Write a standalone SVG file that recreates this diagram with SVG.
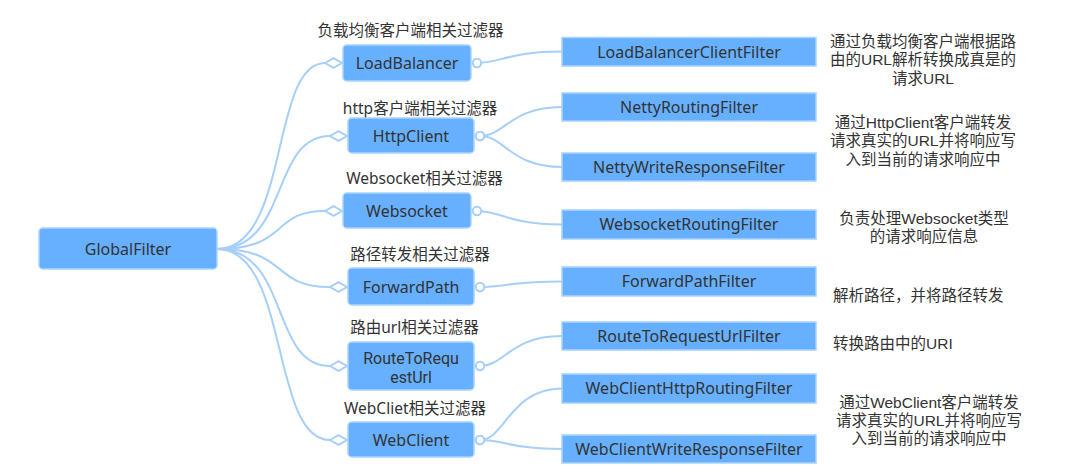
<svg xmlns="http://www.w3.org/2000/svg" width="1081" height="475" viewBox="0 0 1081 475">
<style>
  .bg{fill:#ffffff}
  .lnode{fill:#66b0ff;stroke:#a9d3ff;stroke-width:1.5}
  .rnode{fill:#66b0ff;stroke:#a9d3ff;stroke-width:1.5}
  .nt{font-family:"Noto Sans","Noto Sans CJK SC",sans-serif;font-size:16px;fill:#333333;text-anchor:middle}
  .nt2{font-family:Roboto,"Noto Sans",sans-serif;font-size:16px;fill:#333333;text-anchor:middle}
  .lbl{font-family:"Noto Sans","Noto Sans CJK SC",sans-serif;font-size:15.5px;fill:#333333;text-anchor:middle}
  .desc{font-family:"Liberation Sans","Noto Sans CJK SC",sans-serif;font-size:15.5px;fill:#333333;text-anchor:middle}
  .descl{font-family:"Liberation Sans","Noto Sans CJK SC",sans-serif;font-size:15.5px;fill:#333333;text-anchor:start}
  .conn{fill:none;stroke:#a6cff9;stroke-width:2}
  .lconn{marker-end:url(#diamond)}
  .rconn{marker-start:url(#dot)}
</style>
<defs>
  <marker id="diamond" markerUnits="userSpaceOnUse" markerWidth="22" markerHeight="14" viewBox="-2 -7 22 14" refX="0" refY="0" orient="auto" overflow="visible">
    <path d="M0,0 L8.5,-4.8 L17,0 L8.5,4.8 Z" fill="#ffffff" stroke="#a6cff9" stroke-width="2"/>
  </marker>
  <marker id="dot" markerUnits="userSpaceOnUse" markerWidth="14" markerHeight="14" viewBox="-7 -7 14 14" refX="0" refY="0" orient="auto" overflow="visible">
    <circle cx="0" cy="0" r="4.2" fill="#ffffff" stroke="#a6cff9" stroke-width="2"/>
  </marker>
</defs>
<rect class="bg" x="0" y="0" width="1081" height="475"/>

<g id="connectors">
  <path class="conn lconn" d="M217,249 C290,249 270,63 325,63"/>
  <path class="conn lconn" d="M217,249 C290,249 270,136 330,136"/>
  <path class="conn lconn" d="M217,249 C290,249 270,211 325,211"/>
  <path class="conn lconn" d="M217,249 C290,249 270,287 330,287"/>
  <path class="conn lconn" d="M217,249 C290,249 270,366 330,366"/>
  <path class="conn lconn" d="M217,249 C290,249 270,440 330,440"/>

  <path class="conn rconn" d="M477,63 C502,63 507,51.5 562,51.5"/>
  <path class="conn rconn" d="M480,136 C505,136 510,107 562,107"/>
  <path class="conn rconn" d="M480,136 C505,136 510,167 562,167"/>
  <path class="conn rconn" d="M477,211 C502,211 507,224.5 562,224.5"/>
  <path class="conn rconn" d="M480,287 C505,287 510,281.5 562,281.5"/>
  <path class="conn rconn" d="M480,366 C505,366 510,336 562,336"/>
  <path class="conn rconn" d="M480,440 C505,440 510,388.5 562,388.5"/>
  <path class="conn rconn" d="M480,440 C505,440 510,449 562,449"/>
</g>

<g id="GlobalFilter">
  <rect class="lnode" x="39" y="228" width="178" height="41" rx="4"/>
  <text class="nt" x="128" y="254.5">GlobalFilter</text>
</g>

<g id="LoadBalancer">
  <text class="lbl" x="410.5" y="35.5">负载均衡客户端相关过滤器</text>
  <rect class="lnode" x="343" y="45" width="128" height="36" rx="4"/>
  <text class="nt" x="407" y="68.5">LoadBalancer</text>
</g>
<g id="HttpClient">
  <text class="lbl" x="420" y="113.5">http客户端相关过滤器</text>
  <rect class="lnode" x="348" y="118" width="126" height="35" rx="4"/>
  <text class="nt" x="411" y="141.5">HttpClient</text>
</g>
<g id="Websocket">
  <text class="lbl" x="424.5" y="183.5">Websocket相关过滤器</text>
  <rect class="lnode" x="343" y="193" width="128" height="35" rx="4"/>
  <text class="nt" x="407" y="216.5">Websocket</text>
</g>
<g id="ForwardPath">
  <text class="lbl" x="420" y="259.5">路径转发相关过滤器</text>
  <rect class="lnode" x="348" y="268" width="126" height="37" rx="4"/>
  <text class="nt" x="411" y="292.5">ForwardPath</text>
</g>
<g id="RouteToRequestUrl">
  <text class="lbl" x="414.5" y="332.5">路由url相关过滤器</text>
  <rect class="lnode" x="348" y="342" width="126" height="48" rx="4"/>
  <text class="nt2" x="411" y="363.5">RouteToRequ<tspan x="411" dy="19">estUrl</tspan></text>
</g>
<g id="WebClient">
  <text class="lbl" x="415" y="413.5">WebCliet相关过滤器</text>
  <rect class="lnode" x="348" y="422" width="126" height="35" rx="4"/>
  <text class="nt" x="411" y="445.5">WebClient</text>
</g>

<g id="LoadBalancerClientFilter">
  <rect class="rnode" x="562" y="37.5" width="254" height="28.5"/>
  <text class="nt" x="689" y="57.5">LoadBalancerClientFilter</text>
</g>
<g id="NettyRoutingFilter">
  <rect class="rnode" x="562" y="93" width="254" height="28"/>
  <text class="nt" x="689" y="112.5">NettyRoutingFilter</text>
</g>
<g id="NettyWriteResponseFilter">
  <rect class="rnode" x="562" y="153" width="254" height="28"/>
  <text class="nt" x="689" y="172.5">NettyWriteResponseFilter</text>
</g>
<g id="WebsocketRoutingFilter">
  <rect class="rnode" x="562" y="210" width="254" height="29"/>
  <text class="nt" x="689" y="230">WebsocketRoutingFilter</text>
</g>
<g id="ForwardPathFilter">
  <rect class="rnode" x="562" y="267" width="254" height="29"/>
  <text class="nt" x="689" y="287">ForwardPathFilter</text>
</g>
<g id="RouteToRequestUrlFilter">
  <rect class="rnode" x="562" y="322" width="254" height="28"/>
  <text class="nt" x="689" y="341.5">RouteToRequestUrlFilter</text>
</g>
<g id="WebClientHttpRoutingFilter">
  <rect class="rnode" x="562" y="374" width="254" height="29"/>
  <text class="nt" x="689" y="394">WebClientHttpRoutingFilter</text>
</g>
<g id="WebClientWriteResponseFilter">
  <rect class="rnode" x="562" y="435" width="254" height="28"/>
  <text class="nt" x="689" y="454.5">WebClientWriteResponseFilter</text>
</g>

<g id="desc-loadbalancer">
  <text class="desc" x="923" y="46.5">通过负载均衡客户端根据路<tspan x="923" dy="18.5">由的URL解析转换成真是的</tspan><tspan x="923" dy="18.5">请求URL</tspan></text>
</g>
<g id="desc-httpclient">
  <text class="desc" x="923" y="127.5">通过HttpClient客户端转发<tspan x="923" dy="18.5">请求真实的URL并将响应写</tspan><tspan x="923" dy="18.5">入到当前的请求响应中</tspan></text>
</g>
<g id="desc-websocket">
  <text class="desc" x="924" y="223.5">负责处理Websocket类型<tspan x="924" dy="18.5">的请求响应信息</tspan></text>
</g>
<g id="desc-forwardpath">
  <text class="descl" x="833" y="300.5">解析路径，并将路径转发</text>
</g>
<g id="desc-routetorequesturl">
  <text class="descl" x="833" y="348.5">转换路由中的URI</text>
</g>
<g id="desc-webclient">
  <text class="desc" x="929" y="407.5">通过WebClient客户端转发<tspan x="929" dy="18">请求真实的URL并将响应写</tspan><tspan x="929" dy="18.5">入到当前的请求响应中</tspan></text>
</g>
</svg>
